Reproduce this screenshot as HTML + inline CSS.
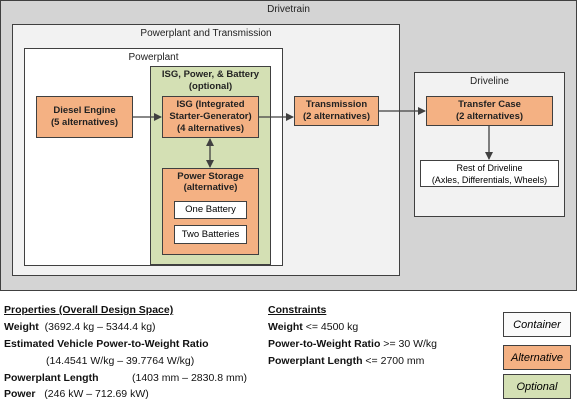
<!DOCTYPE html>
<html><head><style>
body{margin:0;width:577px;height:400px;background:#fff;font-family:"Liberation Sans",sans-serif;position:relative;overflow:hidden}
div{position:absolute;box-sizing:border-box}
.c{display:flex;align-items:center;justify-content:center;text-align:center;font-size:9.5px;line-height:12px}
.alt{background:#f4b183;border:1px solid #404040;font-weight:bold;color:#222}
.t{font-size:10px;color:#222;text-align:center}
.p{font-size:10.5px;color:#111;white-space:nowrap;left:4px}
</style></head><body>
<div style="left:0;top:0;width:577px;height:291px;background:#d4d4d4;border:1px solid #404040"></div>
<div class="t" style="left:0;top:4px;width:577px">Drivetrain</div>
<div style="left:12px;top:24px;width:388px;height:252px;background:#f2f2f2;border:1px solid #404040"></div>
<div class="t" style="left:12px;top:28px;width:388px">Powerplant and Transmission</div>
<div style="left:24px;top:48px;width:259px;height:218px;background:#fff;border:1px solid #404040"></div>
<div class="t" style="left:24px;top:52px;width:259px">Powerplant</div>
<div style="left:150px;top:66px;width:121px;height:199px;background:#d4e0b4;border:1px solid #404040"></div>
<div class="t" style="left:150px;top:69px;width:121px;font-weight:bold;line-height:12px;font-size:9.5px">ISG, Power, &amp; Battery<br>(optional)</div>
<div class="c alt" style="left:36px;top:96px;width:97px;height:42px">Diesel Engine<br>(5 alternatives)</div>
<div class="c alt" style="left:162px;top:96px;width:97px;height:42px">ISG (Integrated<br>Starter-Generator)<br>(4 alternatives)</div>
<div class="alt" style="left:162px;top:168px;width:97px;height:87px"></div>
<div class="t" style="left:162px;top:171px;width:97px;font-weight:bold;font-size:9.5px">Power Storage<br>(alternative)</div>
<div class="c" style="left:174px;top:201px;width:73px;height:18px;background:#fff;border:1px solid #404040">One Battery</div>
<div class="c" style="left:174px;top:225px;width:73px;height:19px;background:#fff;border:1px solid #404040">Two Batteries</div>
<div class="c alt" style="left:294px;top:96px;width:85px;height:30px">Transmission<br>(2 alternatives)</div>
<div style="left:414px;top:72px;width:151px;height:145px;background:#f2f2f2;border:1px solid #404040"></div>
<div class="t" style="left:414px;top:76px;width:151px">Driveline</div>
<div class="c alt" style="left:426px;top:96px;width:127px;height:30px">Transfer Case<br>(2 alternatives)</div>
<div class="c" style="left:420px;top:160px;width:139px;height:27px;background:#fff;border:1px solid #404040;font-size:9px">Rest of Driveline<br>(Axles, Differentials, Wheels)</div>
<svg style="position:absolute;left:0;top:0" width="577" height="400">
<defs><marker id="a" markerWidth="8" markerHeight="8" refX="7" refY="4" orient="auto" markerUnits="userSpaceOnUse"><path d="M0,0L8,4L0,8z" fill="#404040"/></marker></defs>
<g stroke="#404040" stroke-width="1.3" fill="none">
<line x1="133" y1="117" x2="161" y2="117" marker-end="url(#a)"/>
<line x1="259" y1="117" x2="293" y2="117" marker-end="url(#a)"/>
<line x1="379" y1="111" x2="425" y2="111" marker-end="url(#a)"/>
<line x1="489" y1="126" x2="489" y2="159" marker-end="url(#a)"/>
<line x1="210" y1="150" x2="210" y2="139" marker-end="url(#a)"/>
<line x1="210" y1="150" x2="210" y2="167" marker-end="url(#a)"/>
</g></svg>
<div class="p" style="top:304px;font-weight:bold;text-decoration:underline">Properties (Overall Design Space)</div>
<div class="p" style="top:321px"><b>Weight</b>&nbsp; (3692.4 kg – 5344.4 kg)</div>
<div class="p" style="top:338px;font-weight:bold">Estimated Vehicle Power-to-Weight Ratio</div>
<div class="p" style="top:355px;left:46px">(14.4541 W/kg – 39.7764 W/kg)</div>
<div class="p" style="top:372px"><b>Powerplant Length</b></div>
<div class="p" style="top:372px;left:132px">(1403 mm – 2830.8 mm)</div>
<div class="p" style="top:388px"><b>Power</b>&nbsp;&nbsp; (246 kW – 712.69 kW)</div>
<div class="p" style="top:304px;left:268px;font-weight:bold;text-decoration:underline">Constraints</div>
<div class="p" style="top:321px;left:268px"><b>Weight</b> &lt;= 4500 kg</div>
<div class="p" style="top:338px;left:268px"><b>Power-to-Weight Ratio</b> &gt;= 30 W/kg</div>
<div class="p" style="top:355px;left:268px"><b>Powerplant Length</b> &lt;= 2700 mm</div>
<div class="c" style="left:503px;top:312px;width:68px;height:25px;background:#fafafa;border:1px solid #404040;font-style:italic;font-size:11px">Container</div>
<div class="c" style="left:503px;top:345px;width:68px;height:25px;background:#f4b183;border:1px solid #404040;font-style:italic;font-size:11px">Alternative</div>
<div class="c" style="left:503px;top:374px;width:68px;height:25px;background:#d4e0b4;border:1px solid #404040;font-style:italic;font-size:11px">Optional</div>
</body></html>
